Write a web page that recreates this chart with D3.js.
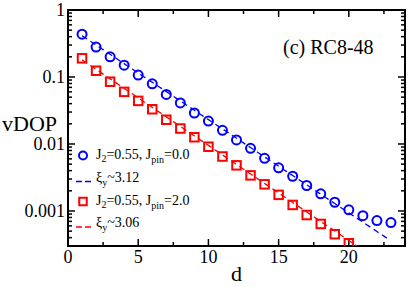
<!DOCTYPE html>
<html>
<head>
<meta charset="utf-8">
<script src="https://cdn.jsdelivr.net/npm/d3@7"></script>
<style>
  body { margin: 0; background: #fff; }
  svg { display: block; }
  text { font-family: "Liberation Serif", "Times New Roman", serif; fill: #000; }
</style>
</head>
<body>
<div id="chart"></div>
<script>
// data
var dBlue = [1, 2, 3, 4, 5, 6, 7, 8, 9, 10, 11, 12, 13, 14, 15, 16, 17, 18, 19, 20, 21, 22, 23];
var vBlue = [0.435, 0.28, 0.20, 0.15, 0.107, 0.079, 0.055, 0.041, 0.029, 0.022, 0.016, 0.0115,
  0.0086, 0.0061, 0.0044, 0.0033, 0.0024, 0.0018, 0.00135, 0.00104, 0.00085, 0.00072, 0.00067];
var dRed = [1, 2, 3, 4, 5, 6, 7, 8, 9, 10, 11, 12, 13, 14, 15, 16, 17, 18, 19, 20];
var vRed = [0.19, 0.124, 0.085, 0.060, 0.044, 0.033, 0.023, 0.017, 0.0126, 0.0091, 0.0065,
  0.0048, 0.0034, 0.0025, 0.00174, 0.00123, 0.00087, 0.00064, 0.00045, 0.00033];
// fits v = A * exp(-d / xi)
var fitBlue = { A: 0.57, xi: 3.12, from: 1, to: 22.9 };
var fitRed = { A: 0.25, xi: 3.06, from: 1, to: 21 };
var yTickVals = [1, 0.1, 0.01, 0.001];
var yTickText = ['1', '0.1', '0.01', '0.001'];
var xTickVals = [0, 5, 10, 15, 20];

var width = 411, height = 287;
var margin = { left: 68, right: 6, top: 10, bottom: 41 };

var svg = d3.select('#chart').append('svg')
  .attr('width', width).attr('height', height);

var x = d3.scaleLinear().domain([0, 24]).range([margin.left, width - margin.right]);
var y = d3.scaleLog().domain([0.0003, 1]).range([height - margin.bottom, margin.top]);

var x0 = x.range()[0], x1 = x.range()[1], y0 = y.range()[0], y1 = y.range()[1];

// clip for plot content
svg.append('clipPath').attr('id', 'clip')
  .append('rect').attr('x', x0).attr('y', y1).attr('width', x1 - x0).attr('height', y0 - y1);

// minor log ticks
var minorY = [];
for (var e = -4; e < 0; e++) {
  for (var m = 1; m < 10; m++) {
    var v = m * Math.pow(10, e);
    if (v >= 0.0003 && v <= 1) minorY.push({ v: v, major: m == 1 });
  }
}
minorY.push({ v: 1, major: true });
var xTicksAll = d3.range(0, 24.01, 2.5).map(function (d) {
  return { v: d, major: d % 5 == 0 };
});

var ticks = svg.append('g').attr('stroke', '#000').attr('stroke-width', 1.5);
minorY.forEach(function (t) {
  var len = t.major ? 7 : 4;
  ticks.append('line').attr('x1', x0).attr('x2', x0 + len)
    .attr('y1', y(t.v)).attr('y2', y(t.v));
  ticks.append('line').attr('x1', x1).attr('x2', x1 - len)
    .attr('y1', y(t.v)).attr('y2', y(t.v));
});
xTicksAll.forEach(function (t) {
  var len = t.major ? 7 : 4;
  ticks.append('line').attr('x1', x(t.v)).attr('x2', x(t.v))
    .attr('y1', y0).attr('y2', y0 - len);
  ticks.append('line').attr('x1', x(t.v)).attr('x2', x(t.v))
    .attr('y1', y1).attr('y2', y1 + len);
});

// frame
svg.append('rect').attr('x', x0).attr('y', y1)
  .attr('width', x1 - x0).attr('height', y0 - y1)
  .attr('fill', 'none').attr('stroke', '#000').attr('stroke-width', 2);

// tick labels
svg.append('g').selectAll('text').data(yTickVals).enter().append('text')
  .attr('x', x0 - 3).attr('y', function (d) { return y(d); })
  .attr('dy', '0.35em').attr('text-anchor', 'end').attr('font-size', 18)
  .text(function (d, i) { return yTickText[i]; });
svg.append('g').selectAll('text').data(xTickVals).enter().append('text')
  .attr('x', function (d) { return x(d); }).attr('y', 263)
  .attr('text-anchor', 'middle').attr('font-size', 18)
  .text(function (d) { return d; });

// axis titles
svg.append('text').attr('x', 2).attr('y', 131).attr('font-size', 22).text('vDOP');
svg.append('text').attr('x', x(12)).attr('y', 281).attr('text-anchor', 'middle')
  .attr('font-size', 22).text('d');
svg.append('text').attr('x', 283).attr('y', 54).attr('font-size', 20).text('(c) RC8-48');

var plot = svg.append('g').attr('clip-path', 'url(#clip)');

function fitLine(f, color) {
  var pts = d3.range(f.from, f.to + 0.001, 0.1).map(function (d) {
    return [d, f.A * Math.exp(-d / f.xi)];
  });
  plot.append('path').datum(pts)
    .attr('d', d3.line().x(function (p) { return x(p[0]); }).y(function (p) { return y(p[1]); }))
    .attr('fill', 'none').attr('stroke', color).attr('stroke-width', 1.3)
    .attr('stroke-dasharray', '6,4');
}
fitLine(fitBlue, '#0000ff');
fitLine(fitRed, '#ff0000');

plot.append('g').selectAll('circle').data(dBlue).enter().append('circle')
  .attr('cx', function (d) { return x(d); })
  .attr('cy', function (d, i) { return y(vBlue[i]); })
  .attr('r', 4.5).attr('fill', 'none').attr('stroke', '#0000ff').attr('stroke-width', 2);

var s = 8.5;
plot.append('g').selectAll('rect').data(dRed).enter().append('rect')
  .attr('x', function (d) { return x(d) - s / 2; })
  .attr('y', function (d, i) { return y(vRed[i]) - s / 2; })
  .attr('width', s).attr('height', s)
  .attr('fill', 'none').attr('stroke', '#ff0000').attr('stroke-width', 2);

// legend
var lg = svg.append('g');
var lx = 83, tx = 96, fs = 14, ls = 7.5;
lg.append('circle').attr('cx', lx).attr('cy', 155.5).attr('r', 4)
  .attr('fill', 'none').attr('stroke', '#0000ff').attr('stroke-width', 2);
lg.append('line').attr('x1', 76).attr('x2', 91).attr('y1', 181.5).attr('y2', 181.5)
  .attr('stroke', '#0000ff').attr('stroke-width', 1.3).attr('stroke-dasharray', '6,3');
lg.append('rect').attr('x', lx - ls / 2).attr('y', 201.5 - ls / 2).attr('width', ls).attr('height', ls)
  .attr('fill', 'none').attr('stroke', '#ff0000').attr('stroke-width', 2);
lg.append('line').attr('x1', 76).attr('x2', 91).attr('y1', 227).attr('y2', 227)
  .attr('stroke', '#ff0000').attr('stroke-width', 1.3).attr('stroke-dasharray', '6,3');

function jLabel(yy, jpin) {
  var t = lg.append('text').attr('x', tx).attr('y', yy).attr('font-size', fs);
  t.append('tspan').text('J');
  t.append('tspan').attr('font-size', 10).attr('dy', 3).text('2');
  t.append('tspan').attr('dy', -3).text('=0.55, J');
  t.append('tspan').attr('font-size', 10).attr('dy', 4).text('pin');
  t.append('tspan').attr('dy', -4).text('=' + jpin);
}
function xiLabel(yy, xi) {
  var t = lg.append('text').attr('x', tx).attr('y', yy).attr('font-size', fs);
  t.append('tspan').text('ξ');
  t.append('tspan').attr('font-size', 10).attr('dy', 4).text('y');
  t.append('tspan').attr('dy', -4).text('~' + xi);
}
jLabel(159, '0.0');
xiLabel(182, '3.12');
jLabel(205, '2.0');
xiLabel(227, '3.06');
</script>
</body>
</html>
